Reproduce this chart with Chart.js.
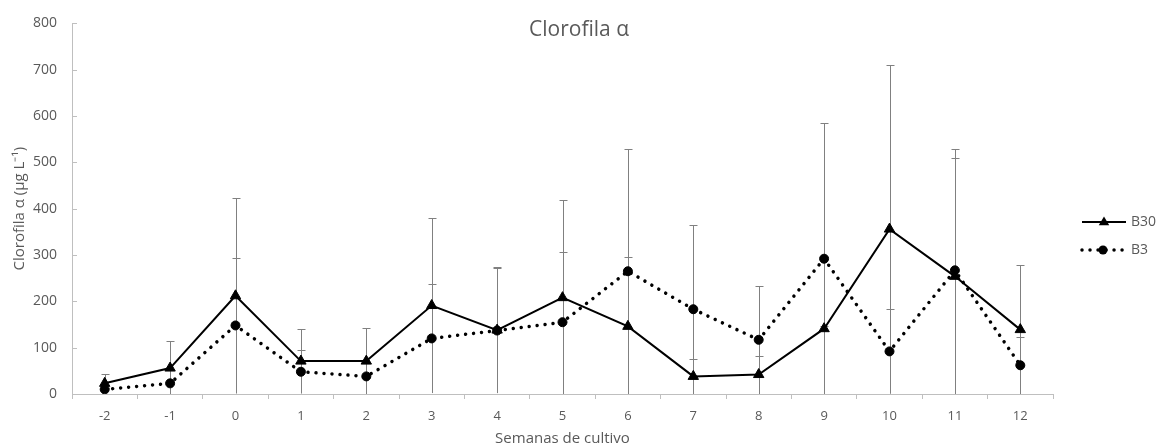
<!DOCTYPE html>
<html><head><meta charset="utf-8">
<script src="https://cdn.jsdelivr.net/npm/chart.js@4"></script>
<style>html,body{margin:0;padding:0;background:#fff}#wrap{width:1164px;height:446px}</style>
</head><body><div id="wrap"><canvas id="c" width="1164" height="446"></canvas></div>
<script>
const weeks = ['-2','-1','0','1','2','3','4','5','6','7','8','9','10','11','12'];
const b30 = [23,56,212,71,71,191,138,208,146,38,42,141,356,254,139];
const b30Err = [21,58,211,69,71,189,136,211,149,38,41,5,355,256,140];
const b3 = [10,23,148,48,38,120,137,155,265,183,117,292,92,267,62];
const b3Err = [3,6,145,47,5,117,135,152,264,182,117,292,91,262,62];
const seriesNames = ['B30','B3'];
const yMin = 0, yMax = 800, yStep = 100;
const chartTitle = 'Clorofila α';
const xTitle = 'Semanas de cultivo';
const yTitle = 'Clorofila α (µg L⁻¹)';

const FONT = "'Open Sans', sans-serif";
const GREY = '#595959';
const AXIS = '#bfbfbf';

const extras = {
  id: 'extras',
  beforeDatasetsDraw(chart) {
    const ctx = chart.ctx, xs = chart.scales.x, ys = chart.scales.y;
    ctx.save();
    ctx.strokeStyle = '#808080';
    ctx.lineWidth = 1;
    [[b30, b30Err], [b3, b3Err]].forEach(([v, e]) => {
      v.forEach((val, i) => {
        const x = Math.round(xs.getPixelForValue(i)) + 0.5;
        const top = Math.round(ys.getPixelForValue(val + e[i])) + 0.5;
        const bot = ys.getPixelForValue(Math.max(yMin, val - e[i]));
        ctx.beginPath();
        ctx.moveTo(x, top); ctx.lineTo(x, bot);
        ctx.moveTo(x - 4, top); ctx.lineTo(x + 4, top);
        ctx.stroke();
      });
    });
    ctx.restore();
  },
  afterDraw(chart) {
    const ctx = chart.ctx, ys = chart.scales.y, area = chart.chartArea;
    ctx.save();
    ctx.strokeStyle = AXIS; ctx.lineWidth = 1;
    ys.ticks.forEach(t => {
      const y = Math.round(ys.getPixelForValue(t.value)) + 0.5;
      ctx.beginPath(); ctx.moveTo(area.left, y); ctx.lineTo(area.left + 5, y); ctx.stroke();
    });
    ctx.fillStyle = GREY;
    ctx.font = "21px " + FONT;
    ctx.textAlign = 'center'; ctx.textBaseline = 'alphabetic';
    ctx.fillText(chartTitle, 579, 36);
    const lx0 = 1082, lx1 = 1126, rows = [222, 250];
    ctx.strokeStyle = '#000'; ctx.lineWidth = 2; ctx.setLineDash([]);
    ctx.beginPath(); ctx.moveTo(lx0, rows[0]); ctx.lineTo(lx1, rows[0]); ctx.stroke();
    ctx.fillStyle = '#000';
    const tx = 1104, ty = rows[0], r = 5.5;
    ctx.beginPath();
    ctx.moveTo(tx, ty - r); ctx.lineTo(tx + r * 0.95, ty + r * 0.6); ctx.lineTo(tx - r * 0.95, ty + r * 0.6); ctx.closePath(); ctx.fill();
    ctx.lineWidth = 3.5; ctx.lineCap = 'round'; ctx.setLineDash([0.01, 8]);
    ctx.beginPath(); ctx.moveTo(lx0, rows[1]); ctx.lineTo(lx1, rows[1]); ctx.stroke();
    ctx.setLineDash([]);
    ctx.beginPath(); ctx.arc(1103, rows[1], 4.5, 0, Math.PI * 2); ctx.fill();
    ctx.fillStyle = GREY; ctx.font = "14px " + FONT; ctx.textAlign = 'left'; ctx.textBaseline = 'middle';
    ctx.fillText(seriesNames[0], 1131, rows[0]);
    ctx.fillText(seriesNames[1], 1131, rows[1]);
    ctx.restore();
  }
};

new Chart(document.getElementById('c'), {
  type: 'line',
  data: {
    labels: weeks,
    datasets: [
      { label: seriesNames[0], data: b30, borderColor: '#000', backgroundColor: '#000', borderWidth: 2,
        pointStyle: 'triangle', pointRadius: 6, pointBackgroundColor: '#000', pointBorderColor: '#000', pointBorderWidth: 1, tension: 0 },
      { label: seriesNames[1], data: b3, borderColor: '#000', backgroundColor: '#000', borderWidth: 3.5,
        borderDash: [0.01, 8], borderCapStyle: 'round',
        pointStyle: 'circle', pointRadius: 4.5, pointBackgroundColor: '#000', pointBorderColor: '#000', pointBorderWidth: 1, tension: 0 }
    ]
  },
  options: {
    responsive: false, animation: false, devicePixelRatio: 1,
    layout: { padding: { top: 19, right: 111, left: 0, bottom: 0 } },
    plugins: { legend: { display: false }, title: { display: false }, tooltip: { enabled: false } },
    scales: {
      x: {
        type: 'category', offset: true,
        grid: { offset: true, drawOnChartArea: false, tickLength: 5, color: AXIS },
        border: { display: true, color: AXIS },
        ticks: { color: GREY, font: { family: FONT, size: 13 }, padding: 9, maxRotation: 0, autoSkip: false },
        title: { display: true, text: xTitle, color: GREY, font: { family: FONT, size: 15 }, padding: { top: 0, bottom: -2 } },
        afterFit(s) { s.height = 52; }
      },
      y: {
        min: yMin, max: yMax,
        grid: { display: false, drawTicks: false },
        border: { display: true, color: AXIS },
        ticks: { stepSize: yStep, color: GREY, font: { family: FONT, size: 14 }, padding: 15 },
        title: { display: true, text: yTitle, color: GREY, font: { family: FONT, size: 15 }, padding: { top: 11, bottom: 0 } },
        afterFit(s) { s.width = 72; }
      }
    }
  },
  plugins: [extras]
});
</script></body></html>
